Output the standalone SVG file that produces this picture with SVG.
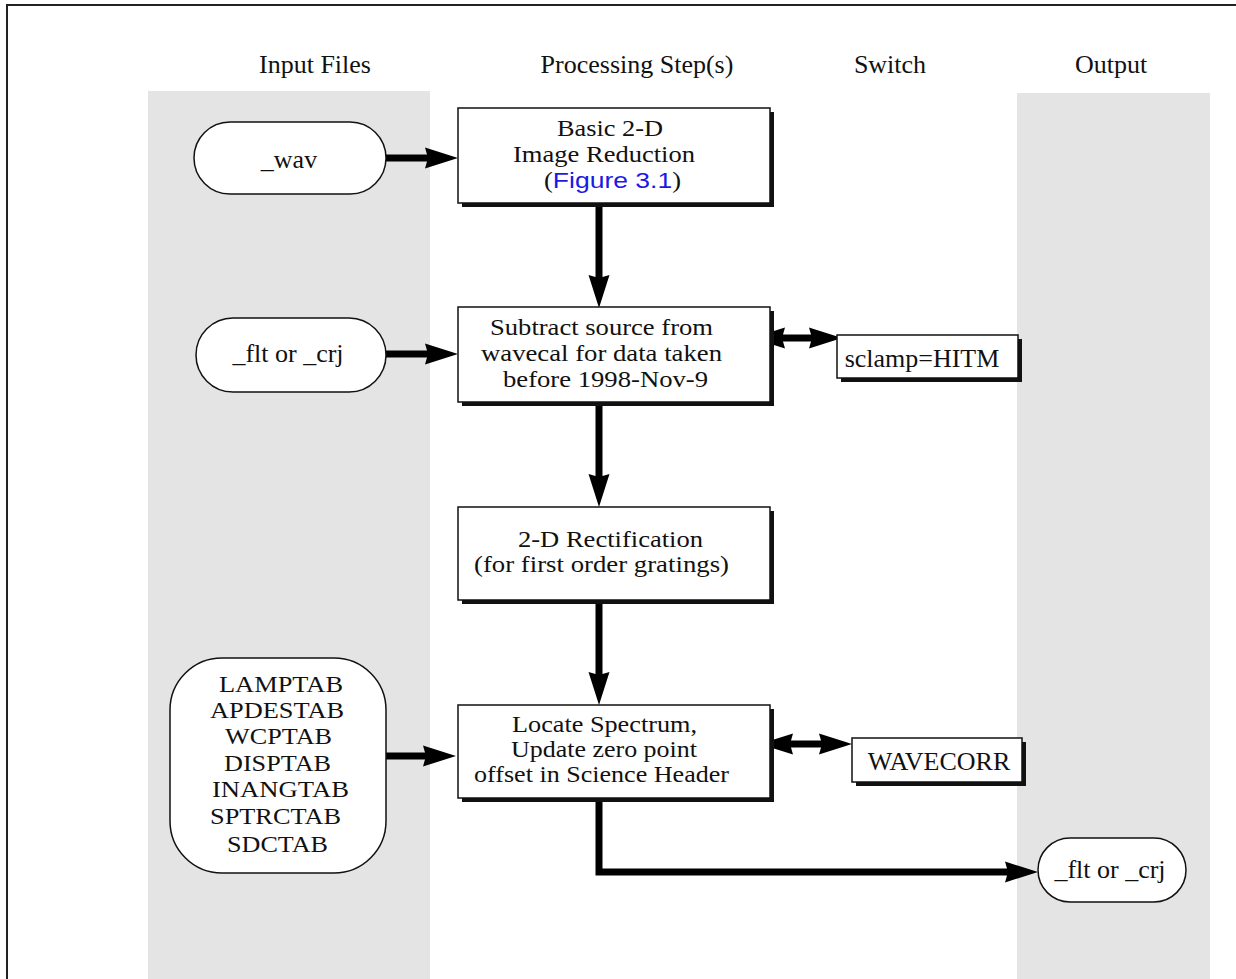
<svg xmlns="http://www.w3.org/2000/svg" width="1236" height="979" viewBox="0 0 1236 979">
<defs>
<style>
.t{font-family:"Liberation Serif","Times New Roman",serif;font-size:26px;fill:#111;text-anchor:middle}
.s{font-size:22.5px}
.l{font-size:23.5px}
.box{fill:#fff;stroke:#111;stroke-width:1.5}
.sh{fill:#111}
.pill{fill:#fff;stroke:#111;stroke-width:1.5}
.ln{stroke:#000;fill:none;stroke-width:7}
.hd{fill:#000}
.blue{font-family:"Liberation Sans",Arial,sans-serif;fill:#1a1ae6}
</style>
<path id="ah" class="hd" d="M0 0 L-33 -10.5 L-30 0 L-33 10.5 Z"/>
</defs>
<rect x="0" y="0" width="1236" height="979" fill="#fff"/>
<path d="M7 979 V5 H1236" fill="none" stroke="#222" stroke-width="2"/>
<rect x="148" y="91" width="282" height="888" fill="#e4e4e4"/>
<rect x="1017" y="93" width="193" height="886" fill="#e4e4e4"/>

<g id="headers">
<text class="t" x="315" y="73">Input Files</text>
<text class="t" x="637" y="73">Processing Step(s)</text>
<text class="t" x="890" y="73">Switch</text>
<text class="t" x="1111" y="73">Output</text>
</g>

<g id="connectors">
<line class="ln" x1="386" y1="158" x2="430" y2="158"/>
<use href="#ah" transform="translate(458,158)"/>
<line class="ln" x1="386" y1="354" x2="430" y2="354"/>
<use href="#ah" transform="translate(458,354)"/>
<line class="ln" x1="386" y1="756" x2="428" y2="756"/>
<use href="#ah" transform="translate(456,756)"/>
<line class="ln" x1="599" y1="205" x2="599" y2="280"/>
<use href="#ah" transform="translate(599,308) rotate(90)"/>
<line class="ln" x1="599" y1="404" x2="599" y2="480"/>
<use href="#ah" transform="translate(599,507) rotate(90)"/>
<line class="ln" x1="599" y1="602" x2="599" y2="678"/>
<use href="#ah" transform="translate(599,705) rotate(90)"/>
<line class="ln" x1="778" y1="338" x2="814" y2="338"/>
<use href="#ah" transform="translate(752,338) rotate(180)"/>
<use href="#ah" transform="translate(842,338)"/>
<line class="ln" x1="786" y1="744" x2="826" y2="744"/>
<use href="#ah" transform="translate(760,744) rotate(180)"/>
<use href="#ah" transform="translate(852,744)"/>
<path class="ln" d="M599 800 V872 H1012"/>
<use href="#ah" transform="translate(1038,872)"/>
</g>

<g id="wav">
<rect class="pill" x="194" y="122" width="192" height="72" rx="36"/>
<text class="t" x="289" y="168">_wav</text>
</g>
<g id="flt_in">
<rect class="pill" x="196" y="318" width="190" height="74" rx="37"/>
<text class="t" x="288" y="362">_flt or _crj</text>
</g>
<g id="tables">
<rect class="pill" x="170" y="658" width="216" height="215" rx="52"/>
<text class="t l" x="281" y="692" textLength="124" lengthAdjust="spacingAndGlyphs">LAMPTAB</text>
<text class="t l" x="277" y="718" textLength="134" lengthAdjust="spacingAndGlyphs">APDESTAB</text>
<text class="t l" x="278.5" y="744" textLength="107" lengthAdjust="spacingAndGlyphs">WCPTAB</text>
<text class="t l" x="277.5" y="771" textLength="107" lengthAdjust="spacingAndGlyphs">DISPTAB</text>
<text class="t l" x="280.5" y="797" textLength="137" lengthAdjust="spacingAndGlyphs">INANGTAB</text>
<text class="t l" x="275.5" y="824" textLength="131" lengthAdjust="spacingAndGlyphs">SPTRCTAB</text>
<text class="t l" x="277.5" y="852" textLength="101" lengthAdjust="spacingAndGlyphs">SDCTAB</text>
</g>

<g id="box1">
<rect class="sh" x="462" y="112" width="312" height="95"/>
<rect class="box" x="458" y="108" width="312" height="95"/>
<text class="t s" x="610" y="136" textLength="106" lengthAdjust="spacingAndGlyphs">Basic 2-D</text>
<text class="t s" x="604" y="162" textLength="182" lengthAdjust="spacingAndGlyphs">Image Reduction</text>
<text class="t s" x="612.5" y="188" textLength="137" lengthAdjust="spacingAndGlyphs">(<tspan class="blue">Figure 3.1</tspan>)</text>
</g>
<g id="box2">
<rect class="sh" x="462" y="311" width="312" height="95"/>
<rect class="box" x="458" y="307" width="312" height="95"/>
<text class="t s" x="601.5" y="335" textLength="223" lengthAdjust="spacingAndGlyphs">Subtract source from</text>
<text class="t s" x="601.5" y="361" textLength="241" lengthAdjust="spacingAndGlyphs">wavecal for data taken</text>
<text class="t s" x="605.5" y="387" textLength="205" lengthAdjust="spacingAndGlyphs">before 1998-Nov-9</text>
</g>
<g id="box3">
<rect class="sh" x="462" y="511" width="312" height="93"/>
<rect class="box" x="458" y="507" width="312" height="93"/>
<text class="t s" x="610.5" y="547" textLength="185" lengthAdjust="spacingAndGlyphs">2-D Rectification</text>
<text class="t s" x="601.5" y="572" textLength="255" lengthAdjust="spacingAndGlyphs">(for first order gratings)</text>
</g>
<g id="box4">
<rect class="sh" x="462" y="709" width="312" height="93"/>
<rect class="box" x="458" y="705" width="312" height="93"/>
<text class="t s" x="604.5" y="732" textLength="185" lengthAdjust="spacingAndGlyphs">Locate Spectrum,</text>
<text class="t s" x="604" y="757" textLength="186" lengthAdjust="spacingAndGlyphs">Update zero point</text>
<text class="t s" x="601.5" y="782" textLength="255" lengthAdjust="spacingAndGlyphs">offset in Science Header</text>
</g>
<g id="sclamp">
<rect class="sh" x="841" y="339" width="181" height="43"/>
<rect class="box" x="837" y="335" width="181" height="43"/>
<text class="t" x="922" y="367">sclamp=HITM</text>
</g>
<g id="wavecorr">
<rect class="sh" x="856" y="742" width="170" height="44"/>
<rect class="box" x="852" y="738" width="170" height="44"/>
<text class="t" x="939" y="770">WAVECORR</text>
</g>
<g id="flt_out">
<rect class="pill" x="1038" y="838" width="148" height="64" rx="32"/>
<text class="t" x="1110" y="878">_flt or _crj</text>
</g>
</svg>
